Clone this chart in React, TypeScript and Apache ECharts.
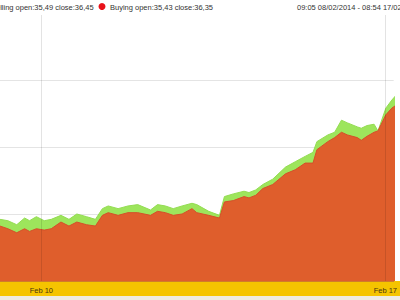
import React, { useEffect, useRef } from "react";
import * as echarts from "echarts";

// Timestamps (local time) of the price samples
const times: string[] = [
  "2014-02-08 09:05", "2014-02-09 03:50", "2014-02-09 07:40", "2014-02-09 12:00", "2014-02-09 15:50",
  "2014-02-09 18:15", "2014-02-09 21:35", "2014-02-10 01:25", "2014-02-10 04:50", "2014-02-10 09:35",
  "2014-02-10 13:30", "2014-02-10 17:20", "2014-02-10 22:05", "2014-02-11 02:25", "2014-02-11 05:50",
  "2014-02-11 08:40", "2014-02-11 13:30", "2014-02-11 18:20", "2014-02-11 23:05", "2014-02-12 05:20",
  "2014-02-12 08:45", "2014-02-12 12:35", "2014-02-12 16:25", "2014-02-12 20:45", "2014-02-13 01:35",
  "2014-02-13 03:55", "2014-02-13 09:45", "2014-02-13 15:00", "2014-02-13 17:25", "2014-02-13 21:45",
  "2014-02-14 03:00", "2014-02-14 05:25", "2014-02-14 08:45", "2014-02-14 12:10", "2014-02-14 17:00",
  "2014-02-14 23:15", "2014-02-15 04:00", "2014-02-15 08:50", "2014-02-15 12:40", "2014-02-15 14:35",
  "2014-02-15 19:55", "2014-02-15 23:15", "2014-02-16 02:35", "2014-02-16 05:30", "2014-02-16 10:20",
  "2014-02-16 12:15", "2014-02-16 15:05", "2014-02-16 18:30", "2014-02-16 20:25", "2014-02-17 00:15",
  "2014-02-17 03:10", "2014-02-17 08:54",
];

// Selling price (green)
const selling: number[] = [
  35.49, 35.46, 35.45, 35.42, 35.47,
  35.45, 35.48, 35.45, 35.46, 35.49,
  35.46, 35.50, 35.48, 35.46, 35.54,
  35.56, 35.54, 35.56, 35.57, 35.53,
  35.57, 35.56, 35.54, 35.56, 35.58,
  35.57, 35.52, 35.49, 35.63, 35.65,
  35.67, 35.66, 35.68, 35.72, 35.76,
  35.85, 35.89, 35.93, 35.96, 36.04,
  36.09, 36.11, 36.20, 36.18, 36.15,
  36.14, 36.16, 36.17, 36.12, 36.29,
  36.35, 36.45,
];

// Buying price (orange)
const buying: number[] = [
  35.43, 35.41, 35.39, 35.36, 35.39,
  35.37, 35.39, 35.38, 35.39, 35.44,
  35.41, 35.44, 35.42, 35.41, 35.49,
  35.51, 35.49, 35.51, 35.51, 35.49,
  35.52, 35.51, 35.49, 35.50, 35.54,
  35.51, 35.49, 35.47, 35.59, 35.60,
  35.63, 35.62, 35.64, 35.69, 35.72,
  35.80, 35.83, 35.88, 35.88, 35.98,
  36.04, 36.07, 36.11, 36.09, 36.07,
  36.05, 36.08, 36.11, 36.12, 36.24,
  36.29, 36.35,
];

const xTickTimes: string[] = ["2014-02-10 00:00", "2014-02-17 00:00"];
const xRange: string[] = ["2014-02-09 03:49", "2014-02-17 04:05"];
const monthNames: string[] = ["Jan", "Feb", "Mar", "Apr", "May", "Jun", "Jul", "Aug", "Sep", "Oct", "Nov", "Dec"];

const legendSelling = "Selling open:35,49 close:36,45";
const legendBuying = "Buying open:35,43 close:36,35";
const rangeText = "09:05 08/02/2014 - 08:54 17/02/2014";

function ts(s: string): number {
  const [d, t] = s.split(" ");
  const [y, m, dd] = d.split("-").map(Number);
  const [h, mi] = t.split(":").map(Number);
  return new Date(y, m - 1, dd, h, mi).getTime();
}

export default function App() {
  const ref = useRef<HTMLDivElement>(null);
  useEffect(() => {
    if (!ref.current) return;
    const chart = echarts.init(ref.current, undefined, { renderer: "svg" });
    const sellData = times.map((t, i) => [ts(t), selling[i]]);
    const buyData = times.map((t, i) => [ts(t), buying[i]]);
    const tickVals = xTickTimes.map(ts);
    const font = "'Liberation Sans', Arial, sans-serif";
    const fs = 7.5;
    chart.setOption({
      animation: false,
      backgroundColor: "#ffffff",
      grid: { left: 0, right: 0, top: 13, bottom: 19, containLabel: false },
      xAxis: {
        type: "value",
        min: ts(xRange[0]),
        max: ts(xRange[1]),
        z: 50,
        axisLine: { show: true, lineStyle: { color: "#cf7d2a", width: 1 } },
        axisTick: { show: false },
        splitLine: { show: false },
        axisLabel: {
          customValues: tickVals,
          formatter: (v: number) => {
            const d = new Date(v);
            return monthNames[d.getMonth()] + " " + d.getDate();
          },
          color: "#4a3510",
          fontSize: fs,
          fontFamily: font,
          margin: 5,
          hideOverlap: false,
        },
      },
      yAxis: {
        type: "value",
        min: 35,
        max: 37,
        interval: 0.5,
        axisLine: { show: false },
        axisTick: { show: false },
        axisLabel: { show: false },
        splitLine: { show: true, lineStyle: { color: "#e4e4e4", width: 1 } },
      },
      series: [
        {
          name: "Selling",
          type: "line",
          data: sellData,
          showSymbol: false,
          symbol: "none",
          lineStyle: { color: "#93dc52", width: 1 },
          areaStyle: { color: "#9de55c", opacity: 1 },
          z: 2,
        },
        {
          name: "Buying",
          type: "line",
          data: buyData,
          showSymbol: false,
          symbol: "none",
          lineStyle: { color: "#d4502a", width: 1 },
          areaStyle: { color: "#df5e2c", opacity: 1 },
          z: 3,
          markLine: {
            silent: true,
            symbol: ["none", "none"],
            label: { show: false },
            lineStyle: { color: "rgba(0,0,0,0.11)", type: "solid", width: 1 },
            data: tickVals.map((t) => ({ xAxis: t })),
          },
        },
      ],
      graphic: [
        { type: "rect", z: 0, shape: { x: 0, y: 281, width: 400, height: 15 }, style: { fill: "#f5c400" } },
        { type: "rect", z: 0, shape: { x: 0, y: 296, width: 400, height: 4 }, style: { fill: "#eeebe2" } },
        { type: "rect", z: 100, shape: { x: 0, y: 0, width: 400, height: 15 }, style: { fill: "#ffffff" } },
        {
          type: "text", z: 101, x: -9, y: 7,
          style: { text: legendSelling, fill: "#333333", fontSize: fs, fontFamily: font, verticalAlign: "middle" },
        },
        { type: "circle", z: 101, shape: { cx: 102, cy: 6.5, r: 3.5 }, style: { fill: "#e8121a" } },
        {
          type: "text", z: 101, x: 110, y: 7,
          style: { text: legendBuying, fill: "#333333", fontSize: fs, fontFamily: font, verticalAlign: "middle" },
        },
        {
          type: "text", z: 101, x: 297, y: 7,
          style: { text: rangeText, fill: "#333333", fontSize: fs, fontFamily: font, verticalAlign: "middle" },
        },
      ],
    });
    return () => chart.dispose();
  }, []);
  return (
    <div
      ref={ref}
      style={{ position: "fixed", left: 0, top: 0, width: 400, height: 300 }}
    />
  );
}
